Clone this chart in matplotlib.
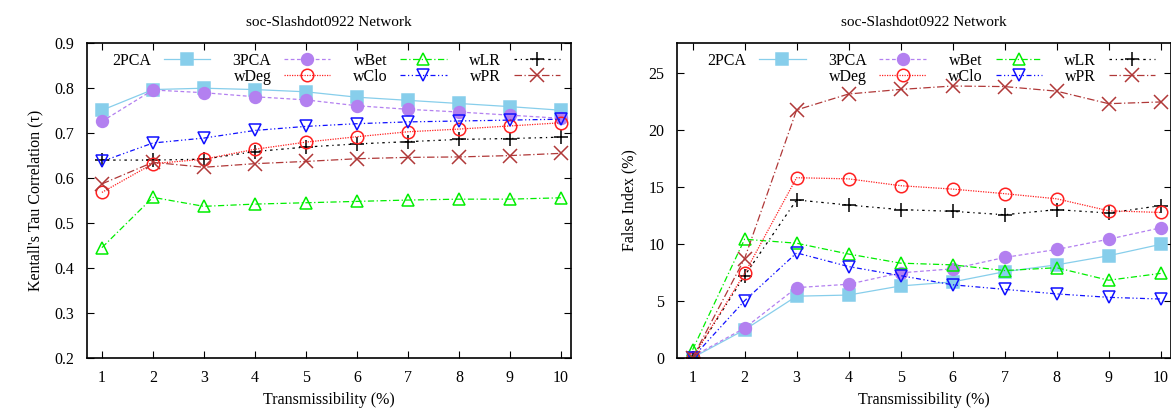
import matplotlib.pyplot as plt
from matplotlib.lines import Line2D

plt.rcParams['font.family'] = ['Liberation Serif', 'DejaVu Serif']
plt.rcParams['font.size'] = 11.5

# Data
x = [1, 2, 3, 4, 5, 6, 7, 8, 9, 10]
names = ['2PCA', '3PCA', 'wBet', 'wLR', 'wDeg', 'wClo', 'wPR']

# Kendall's tau correlation
tau_2pca = [0.751, 0.797, 0.800, 0.797, 0.792, 0.780, 0.773, 0.766, 0.759, 0.751]
tau_3pca = [0.726, 0.796, 0.790, 0.781, 0.774, 0.761, 0.753, 0.747, 0.740, 0.733]
tau_wbet = [0.445, 0.557, 0.537, 0.542, 0.545, 0.548, 0.551, 0.553, 0.553, 0.556]
tau_wlr = [0.640, 0.640, 0.642, 0.659, 0.669, 0.676, 0.681, 0.686, 0.688, 0.691]
tau_wdeg = [0.568, 0.632, 0.642, 0.664, 0.680, 0.692, 0.703, 0.709, 0.716, 0.723]
tau_wclo = [0.637, 0.678, 0.689, 0.706, 0.715, 0.721, 0.725, 0.727, 0.729, 0.731]
tau_wpr = [0.587, 0.635, 0.624, 0.632, 0.637, 0.643, 0.646, 0.647, 0.650, 0.655]

# False index (%)
fi_2pca = [0.0, 2.45, 5.4, 5.5, 6.3, 6.65, 7.55, 8.15, 8.95, 9.95]
fi_3pca = [0.1, 2.6, 6.15, 6.45, 7.45, 7.8, 8.8, 9.5, 10.4, 11.4]
fi_wbet = [0.7, 10.4, 10.05, 9.1, 8.3, 8.15, 7.65, 7.9, 6.8, 7.4]
fi_wlr = [0.0, 7.2, 13.85, 13.4, 13.0, 12.85, 12.55, 13.0, 12.7, 13.35]
fi_wdeg = [0.0, 7.4, 15.8, 15.7, 15.1, 14.8, 14.4, 13.95, 12.9, 12.75]
fi_wclo = [0.0, 5.0, 9.2, 8.0, 7.2, 6.4, 6.0, 5.6, 5.3, 5.15]
fi_wpr = [0.0, 8.7, 21.75, 23.15, 23.55, 23.85, 23.8, 23.4, 22.3, 22.45]

styles = {
    '2PCA': dict(color='#87ceeb', ls='-', marker='s', mfc='#87ceeb', ms=8.5),
    '3PCA': dict(color='#b380f0', ls=(0, (3, 2)), marker='o', mfc='#b380f0', ms=8.5),
    'wBet': dict(color='#00ee00', ls=(0, (5, 2, 1, 2)), marker='^', mfc='none', ms=8.5),
    'wLR': dict(color='black', ls=(0, (2, 3, 1, 3)), marker='+', mfc='none', ms=10),
    'wDeg': dict(color='#ff2020', ls=(0, (1, 1)), marker='o', mfc='none', ms=9),
    'wClo': dict(color='#1010ff', ls=(0, (4, 2, 1, 2, 1, 2)), marker='v', mfc='none', ms=8.5),
    'wPR': dict(color='#b03838', ls=(0, (6, 2, 1, 2)), marker='x', mfc='none', ms=10),
}


def draw(ax, series, ylim, yticks, ylabel):
    for name, vals in zip(names, series):
        st = styles[name]
        ax.plot(x, vals, color=st['color'], ls=st['ls'], lw=0.9, marker=st['marker'],
                mfc=st['mfc'], mec=st['color'], ms=st['ms'], mew=1.1, label=name)
    ax.set_xlim(0.7, 10.2)
    ax.set_ylim(*ylim)
    ax.set_xticks(x)
    ax.set_yticks(yticks)
    ax.tick_params(direction='in', top=True, right=True, length=5, width=0.8, pad=9)
    for s in ax.spines.values():
        s.set_linewidth(1.2)
    ax.set_title('soc-Slashdot0922 Network', pad=12.5, fontsize=11)
    ax.set_xlabel('Transmissibility (%)', labelpad=4)
    ax.set_ylabel(ylabel, labelpad=8)

    # legend, gnuplot-like: label left of sample, 4 columns
    h = {l.get_label(): l for l in ax.get_lines()}
    blank = Line2D([], [], color='none')
    order = [h['2PCA'], blank, h['3PCA'], h['wDeg'], h['wBet'], h['wClo'], h['wLR'], h['wPR']]
    labs = ['2PCA', '', '3PCA', 'wDeg', 'wBet', 'wClo', 'wLR', 'wPR']
    ax.legend(order, labs, ncol=4, loc='upper center', bbox_to_anchor=(0.515, 1.005),
              frameon=False, markerfirst=False, handlelength=2.9, handletextpad=0.8,
              columnspacing=1.4, labelspacing=0.0, borderaxespad=0.3)


fig = plt.figure(figsize=(11.71, 4.08), dpi=100)
ax1 = fig.add_axes([86.6 / 1171, 50.3 / 408, 484.5 / 1171, 314.4 / 408])
ax2 = fig.add_axes([677 / 1171, 50.3 / 408, 494 / 1171, 314.4 / 408])

draw(ax1, [tau_2pca, tau_3pca, tau_wbet, tau_wlr, tau_wdeg, tau_wclo, tau_wpr],
     (0.2, 0.9), [0.2, 0.3, 0.4, 0.5, 0.6, 0.7, 0.8, 0.9], "Kentall's Tau Correlation (τ)")
draw(ax2, [fi_2pca, fi_3pca, fi_wbet, fi_wlr, fi_wdeg, fi_wclo, fi_wpr],
     (0, 27.6), [0, 5, 10, 15, 20, 25], 'False Index (%)')

fig.savefig('out.png', dpi=100)
